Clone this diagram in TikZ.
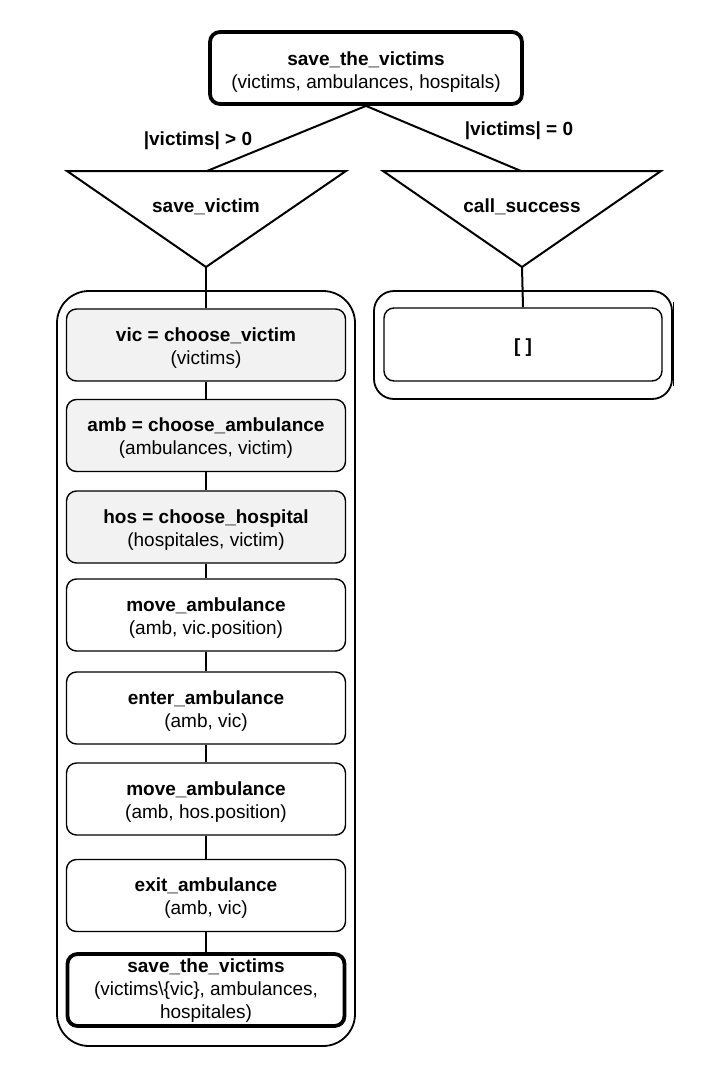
\documentclass[tikz,border=0pt]{standalone}
\usepackage{fontspec}
\setmainfont{Liberation Sans}
\begin{document}
\begin{tikzpicture}[x=1pt,y=-1pt,
  every node/.style={font=\fontsize{19}{23}\selectfont, align=center, inner sep=0pt},
  stepbox/.style={draw, line width=1.4pt, rounded corners=10pt, minimum width=279pt, minimum height=72pt},
  graybox/.style={stepbox, fill=gray!10},
  thickbox/.style={draw, line width=3.8pt, rounded corners=10pt},
  container/.style={draw, line width=1.8pt},
  conn/.style={line width=2pt},
  tri/.style={draw, line width=2pt, line join=miter}
]
\useasboundingbox (0,0) rectangle (713,1074);

% top node
\node[thickbox, minimum width=312pt, minimum height=72pt] (top) at (366,68) {};
\node (topt) at ([yshift=-4pt]top.center) {\textbf{save\_the\_victims}\\(victims, ambulances, hospitals)};

% triangles
\draw[tri] (67,171) -- (346,171) -- (206,267) -- cycle;
\coordinate (t1top) at (207,171);
\coordinate (t1apex) at (206,267);
\node (t1) at (206,207) {\textbf{save\_victim}};

\draw[tri] (383,171) -- (661,171) -- (522,267) -- cycle;
\coordinate (t2top) at (521,171);
\coordinate (t2apex) at (522,267);
\node (t2) at (522,207) {\textbf{call\_success}};

\draw[conn] (top.south) -- (t1top);
\draw[conn] (top.south) -- (t2top);

\node (l1) at (198,141) {\textbf{|victims| > 0}};
\node (l2) at (519,131) {\textbf{|victims| = 0}};

% left container
\node[container, rounded corners=32pt, minimum width=298pt, minimum height=755pt] (c1) at (206,668.5) {};

\node[graybox] (b1) at (206,345) {};
\node[graybox] (b2) at (206,435.5) {};
\node[graybox] (b3) at (206,527) {};
\node[stepbox] (b4) at (206,615) {};
\node[stepbox] (b5) at (206,708) {};
\node[stepbox] (b6) at (206,799) {};
\node[stepbox] (b7) at (206,895.5) {};
\node[thickbox, minimum width=277pt, minimum height=72pt] (b8) at (206,990) {};

\node (b1t) at ([yshift=-3pt]b1.center) {\textbf{vic = choose\_victim}\\(victims)};
\node (b2t) at ([yshift=-3pt]b2.center) {\textbf{amb = choose\_ambulance}\\(ambulances, victim)};
\node (b3t) at ([yshift=-3pt]b3.center) {\textbf{hos = choose\_hospital}\\(hospitales, victim)};
\node (b4t) at ([yshift=-3pt]b4.center) {\textbf{move\_ambulance}\\(amb, vic.position)};
\node (b5t) at ([yshift=-3pt]b5.center) {\textbf{enter\_ambulance}\\(amb, vic)};
\node (b6t) at ([yshift=-3pt]b6.center) {\textbf{move\_ambulance}\\(amb, hos.position)};
\node (b7t) at ([yshift=-3pt]b7.center) {\textbf{exit\_ambulance}\\(amb, vic)};
\node (b8t) at ([yshift=-1pt]b8.center) {\fontsize{19}{22}\selectfont\textbf{save\_the\_victims}\\(victims\textbackslash\{vic\}, ambulances,\\hospitales)};

\draw[conn] (t1apex) -- (b1.north);
\draw[conn] (b1.south) -- (b2.north);
\draw[conn] (b2.south) -- (b3.north);
\draw[conn] (b3.south) -- (b4.north);
\draw[conn] (b4.south) -- (b5.north);
\draw[conn] (b5.south) -- (b6.north);
\draw[conn] (b6.south) -- (b7.north);
\draw[conn] (b7.south) -- (b8.north);

% right container
\node[container, rounded corners=20pt, minimum width=298pt, minimum height=108pt] (c2) at (523,345) {};
\draw[line width=1.8pt] ([xshift=0.6pt,yshift=-12pt]c2.north east) -- ([xshift=0.6pt,yshift=14pt]c2.south east);
\node[stepbox, minimum width=278pt, minimum height=73pt] (r1) at (523,344.5) {};
\node (r1t) at ([yshift=-3pt]r1.center) {\textbf{[ ]}};
\draw[conn] (t2apex) -- (r1.north);
\end{tikzpicture}
\end{document}
